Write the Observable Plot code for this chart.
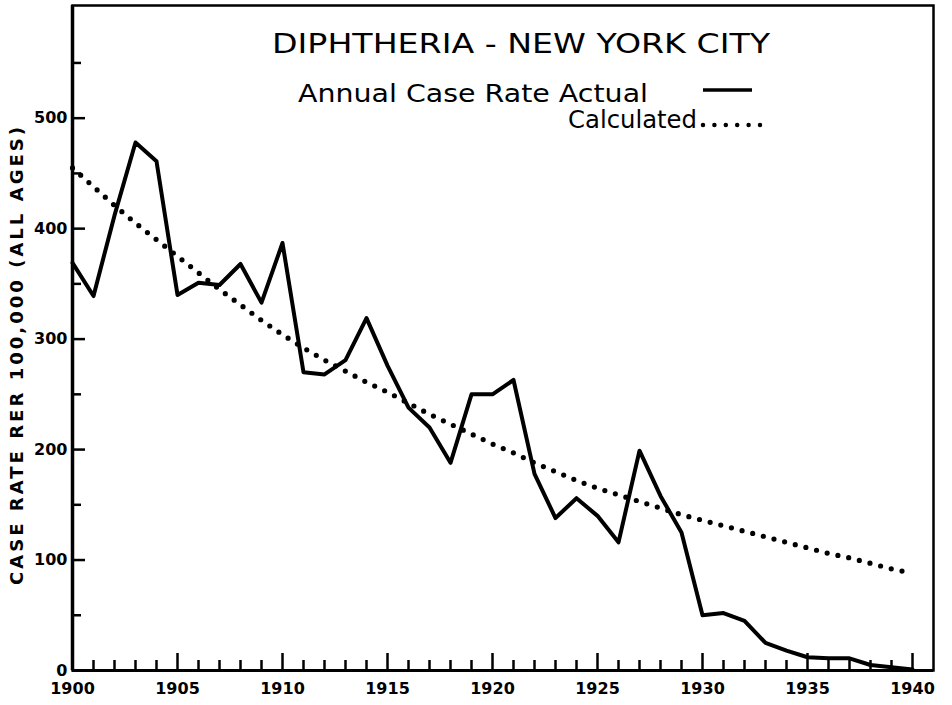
<!DOCTYPE html>
<html>
<head>
<meta charset="utf-8">
<script src="https://cdn.jsdelivr.net/npm/d3@7"></script>
<script src="https://cdn.jsdelivr.net/npm/@observablehq/plot@0.6"></script>
<style>
  body { margin: 0; background: #fff; }
  #wrap { position: relative; width: 952px; height: 705px; }
  #overlay { position: absolute; left: 0; top: 0; pointer-events: none; }
</style>
</head>
<body>
<div id="wrap"></div>
<script>
// ---- data ----
const years = [1900,1901,1902,1903,1904,1905,1906,1907,1908,1909,
               1910,1911,1912,1913,1914,1915,1916,1917,1918,1919,
               1920,1921,1922,1923,1924,1925,1926,1927,1928,1929,
               1930,1931,1932,1933,1934,1935,1936,1937,1938,1939,1940];
const actual = [369,339,412,478,461,340,351,349,368,333,
                387,270,268,281,319,276,238,220,188,250,
                250,263,178,138,156,140,116,199,158,125,
                50,52,45,25,18,12,11,11,5,3,1];
const calculated = [455,438,421,405,390,375,360,345,331,317,
                    304,292,281,271,261,252,242,232,223,214,
                    205,197,188,180,172,165,159,153,147,141,
                    136,131,126,121,116,111,106,102,97,92,88];
const xMajorTicks = [1900,1905,1910,1915,1920,1925,1930,1935,1940];
const xMinorTicks = years.filter(y => !xMajorTicks.includes(y));
const yMajorTicks = [0,100,200,300,400,500];
const yMinorTicks = [50,150,250,350,450,550];
const titleText = "DIPHTHERIA - NEW YORK CITY";
const legendActual = "Annual Case Rate Actual";
const legendCalc = "Calculated";
const yTitle = "CASE RATE RER 100,000 (ALL AGES)";

const data = years.map((year, i) => ({year, actual: actual[i], calc: calculated[i]}));

const chart = Plot.plot({
  width: 952,
  height: 705,
  marginLeft: 72,
  marginRight: 19,
  marginTop: 5,
  marginBottom: 35,
  x: {domain: [1900, 1941]},
  y: {domain: [0, 602]},
  style: {fontFamily: "DejaVu Sans", fontWeight: "bold", fontSize: "16px", color: "#000", background: "#fff"},
  marks: [
    Plot.frame({stroke: "#000", strokeWidth: 2.5}),
    Plot.axisX(xMajorTicks, {tickSize: 17, dy: -17, strokeWidth: 2.5, fill: "none", label: null}),
    Plot.axisX(xMinorTicks, {tickSize: 10, dy: -10, strokeWidth: 2.5, fill: "none", label: null}),
    Plot.axisX(xMajorTicks, {tickSize: 0, tickPadding: 12, stroke: "none", tickFormat: d => String(d), label: null}),
    Plot.axisY(yMajorTicks, {tickSize: 13, dx: 13, strokeWidth: 2.5, fill: "none", label: null}),
    Plot.axisY(yMinorTicks, {tickSize: 9, dx: 9, strokeWidth: 2.5, fill: "none", label: null}),
    Plot.axisY(yMajorTicks, {tickSize: 0, tickPadding: 5, stroke: "none", label: null}),
    Plot.ruleX([1900], {stroke: "#000", strokeWidth: 3.5}),
    Plot.ruleY([0], {stroke: "#000", strokeWidth: 3}),
    Plot.line(data, {x: "year", y: "calc", stroke: "#000", strokeWidth: 5.2,
                     strokeDasharray: "0 11", strokeLinecap: "round"}),
    Plot.line(data, {x: "year", y: "actual", stroke: "#000", strokeWidth: 4,
                     strokeLinejoin: "round"})
  ]
});

const wrap = document.getElementById("wrap");
wrap.appendChild(chart);

// ---- title, legend and y-axis title overlay ----
const ns = "http://www.w3.org/2000/svg";
const ov = document.createElementNS(ns, "svg");
ov.setAttribute("id", "overlay");
ov.setAttribute("width", 952);
ov.setAttribute("height", 705);
function addText(str, attrs) {
  const t = document.createElementNS(ns, "text");
  for (const k in attrs) t.setAttribute(k, attrs[k]);
  t.textContent = str;
  ov.appendChild(t);
  return t;
}
function addLine(attrs) {
  const l = document.createElementNS(ns, "line");
  for (const k in attrs) l.setAttribute(k, attrs[k]);
  ov.appendChild(l);
}
addText(titleText, {x: 272, y: 53, "font-family": "DejaVu Sans", "font-size": 26,
  textLength: 498, lengthAdjust: "spacingAndGlyphs", fill: "#000"});
addText(legendActual, {x: 298, y: 102, "font-family": "DejaVu Sans", "font-size": 25,
  textLength: 350, lengthAdjust: "spacingAndGlyphs", fill: "#000"});
addLine({x1: 703, x2: 752, y1: 90, y2: 90, stroke: "#000", "stroke-width": 3.5});
addText(legendCalc, {x: 568, y: 128, "font-family": "DejaVu Sans", "font-size": 25,
  textLength: 129, lengthAdjust: "spacingAndGlyphs", fill: "#000"});
addLine({x1: 703, x2: 760, y1: 125, y2: 125, stroke: "#000", "stroke-width": 4.5,
  "stroke-dasharray": "0 11.4", "stroke-linecap": "round"});
addText(yTitle, {transform: "translate(23,356) rotate(-90)", "text-anchor": "middle",
  "font-family": "DejaVu Sans", "font-weight": "bold", "font-size": 18,
  textLength: 458, lengthAdjust: "spacing", fill: "#000"});
wrap.appendChild(ov);
</script>
</body>
</html>
